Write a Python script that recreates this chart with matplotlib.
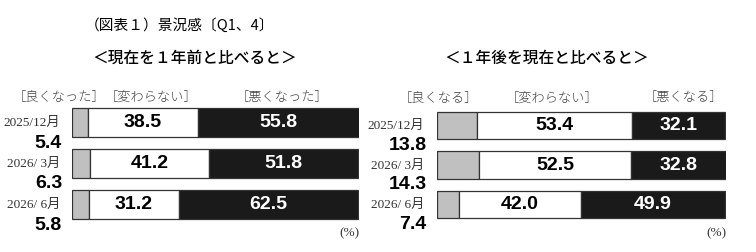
import matplotlib
matplotlib.use("Agg")
import matplotlib.pyplot as plt
from matplotlib.transforms import blended_transform_factory as blend

# ---------------- data ----------------
periods = ["2025/12月", "2026/ 3月", "2026/ 6月"]

left_title = "＜現在を１年前と比べると＞"
left_cats = ["［良くなった］", "［変わらない］", "［悪くなった］"]
left_good = [5.4, 6.3, 5.8]
left_same = [38.5, 41.2, 31.2]
left_bad = [55.8, 51.8, 62.5]

right_title = "＜１年後を現在と比べると＞"
right_cats = ["［良くなる］", "［変わらない］", "［悪くなる］"]
right_good = [13.8, 14.3, 7.4]
right_same = [53.4, 52.5, 42.0]
right_bad = [32.1, 32.8, 49.9]

main_title = "（図表１）景況感〔Q1、4〕"
unit = "(%)"

# ---------------- style ----------------
W, H = 756, 252
JP = ["Noto Sans CJK JP", "DejaVu Sans"]
SERIF_JP = ["Liberation Serif", "Noto Sans CJK JP"]
NUM = ["Liberation Sans Narrow", "Liberation Sans", "DejaVu Sans"]
GRAY = "#c0c0c0"
BLACK = "#1a1a1a"
EDGE = "#333333"
NUMSIZE = 14

fig = plt.figure(figsize=(W / 100, H / 100), dpi=100)
fig.patch.set_facecolor("white")


def fx(x):
    return x / W


def fy(y):
    return 1 - y / H


def panel(left_px, right_px, top_px, bot_px, good, same, bad,
          date_right_px, cats, cat_x, cat_y):
    ax = fig.add_axes([fx(left_px), fy(bot_px), (right_px - left_px) / W,
                       (bot_px - top_px) / H])
    ypos = list(range(len(periods)))
    totals = [g + s + b for g, s, b in zip(good, same, bad)]
    ax.barh(ypos, good, height=0.70, color=GRAY, edgecolor=EDGE, linewidth=0.9)
    ax.barh(ypos, same, left=good, height=0.70, color="white",
            edgecolor=EDGE, linewidth=0.9)
    lefts = [g + s for g, s in zip(good, same)]
    ax.barh(ypos, bad, left=lefts, height=0.70, color=BLACK,
            edgecolor=EDGE, linewidth=0.9)
    ax.set_xlim(0, max(totals))
    ax.set_ylim(len(periods) - 0.5, -0.5)
    ax.axis("off")
    for i in ypos:
        ax.text(good[i] + same[i] / 2, i, f"{same[i]:.1f}", ha="center",
                va="center", fontsize=NUMSIZE, fontweight="bold", family=NUM,
                color="black")
        ax.text(lefts[i] + bad[i] / 2, i, f"{bad[i]:.1f}", ha="center",
                va="center", fontsize=NUMSIZE, fontweight="bold", family=NUM,
                color="white")
    tr = blend(fig.transFigure, ax.transData)
    for i, p in enumerate(periods):
        fig.text(fx(date_right_px), i + 0.02, p, transform=tr, ha="right",
                 va="center", fontsize=9.5, family=SERIF_JP, color="#333333")
        fig.text(fx(date_right_px + 2), i + 0.50, f"{good[i]:.1f}",
                 transform=tr, ha="right", va="center", fontsize=NUMSIZE,
                 fontweight="bold", family=NUM, color="black")
    for c, x in zip(cats, cat_x):
        fig.text(fx(x), fy(cat_y), c, ha="center", va="center", fontsize=9.5,
                 family=JP, color="#444444", fontweight="light")
    fig.text(fx(right_px), fy(233), unit, ha="right", va="center",
             fontsize=9.5, family=SERIF_JP, color="#333333")
    return ax


panel(72, 359, 102, 225, left_good, left_same, left_bad, 60,
      left_cats, [59, 151, 282], 97)
panel(437.3, 726.3, 105.7, 224.3, right_good, right_same, right_bad, 424.5,
      right_cats, [438, 552, 683], 98)

fig.text(fx(85), fy(25), main_title, ha="left", va="center", fontsize=10.6,
         family=JP, color="black")
fig.text(fx(195), fy(58), left_title, ha="center", va="center", fontsize=11.3,
         family=JP, color="black", fontweight="medium")
fig.text(fx(547), fy(58), right_title, ha="center", va="center", fontsize=11.3,
         family=JP, color="black", fontweight="medium")

fig.savefig("out.png", dpi=100, facecolor="white")
